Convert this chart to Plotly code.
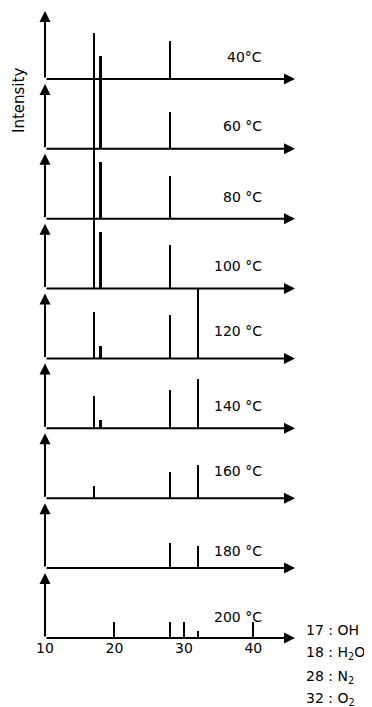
import plotly.graph_objects as go
from plotly.subplots import make_subplots

# ---------------- data ----------------
temperatures = ["40°C", "60 °C", "80 °C", "100 °C", "120 °C", "140 °C", "160 °C", "180 °C", "200 °C"]
mass_numbers = [17, 18, 28, 32]
# peak intensities (arbitrary units, full panel = 70; values > 70 are off-scale)
int_40 = [46, 23, 38, 0]
int_60 = [80, 80, 37, 0]
int_80 = [80, 57, 43, 0]
int_100 = [80, 57, 44, 0]
int_120 = [47, 13, 44, 80]
int_140 = [32, 8, 38, 49]
int_160 = [12, 0, 26, 33]
int_180 = [0, 0, 25, 22]
int_200 = [0, 0, 16, 7]
intensities = [int_40, int_60, int_80, int_100, int_120, int_140, int_160, int_180, int_200]
x_ticks = [10, 20, 30, 40]
legend_lines = ["17 : OH", "18 : H<sub>2</sub>O", "28 : N<sub>2</sub>", "32 : O<sub>2</sub>"]

# ---------------- layout geometry ----------------
OFF = 8  # default page body margin
W, H = 372 - OFF, 707 - OFF
ML, MT, MB = 45 - OFF, 9 - OFF, 69
PW = 250
MR = W - ML - PW
PH = H - MT - MB
XMIN, XMAX = 10, 46
YMAX = 70
n = len(temperatures)
label_dy = [22, 23, 22, 23, 27, 22, 27, 17, 21]
FONT = "DejaVu Sans"

def px_to_paper(x, y):
    xf, yf = x - OFF, y - OFF
    return (xf - ML) / PW, (H - MB - yf) / PH

fig = make_subplots(rows=n, cols=1, vertical_spacing=0)
for i, (temp, vals) in enumerate(zip(temperatures, intensities)):
    r = i + 1
    fig.add_trace(go.Bar(x=mass_numbers, y=vals, width=0.32,
                         marker=dict(color="black", line=dict(width=0)),
                         showlegend=False, hoverinfo="skip"), row=r, col=1)
    top = 1 - i / n
    bot = 1 - (i + 1) / n
    xa = "xaxis" if r == 1 else f"xaxis{r}"
    ya = "yaxis" if r == 1 else f"yaxis{r}"
    xref = "x" if r == 1 else f"x{r}"
    yref = "y" if r == 1 else f"y{r}"
    last = (r == n)
    fig.layout[xa].update(domain=[0, 1], range=[XMIN, XMAX], showgrid=False, zeroline=False,
                          showline=False,
                          ticks="inside" if last else "", ticklen=16, tickwidth=1.6, tickcolor="black",
                          tickvals=x_ticks if last else [], showticklabels=last,
                          tickfont=dict(family=FONT, size=14, color="black"))
    fig.layout[ya].update(domain=[bot, top], range=[0, YMAX], showgrid=False, zeroline=False,
                          showline=False, showticklabels=False, ticks="")
    # x axis arrow
    fig.add_annotation(x=XMAX, y=0, ax=XMIN, ay=0, xref=xref, yref=yref, axref=xref, ayref=yref,
                       showarrow=True, arrowhead=2, arrowsize=1.1, arrowwidth=2, arrowcolor="black", text="")
    # y axis arrow
    fig.add_annotation(x=XMIN, y=68 if r == 1 else 65, ax=XMIN, ay=0, xref=xref, yref=yref, axref=xref, ayref=yref,
                       showarrow=True, arrowhead=2, arrowsize=1.1, arrowwidth=2, arrowcolor="black", text="")
    # temperature label
    fig.add_annotation(x=41.6, y=label_dy[i], xref=xref, yref=yref, text=temp, showarrow=False,
                       xanchor="right", yanchor="middle",
                       font=dict(family=FONT, size=14, color="black"))

# Intensity label
ix, iy = px_to_paper(19, 101)
fig.add_annotation(x=ix, y=iy, xref="paper", yref="paper", text="Intensity", textangle=-90,
                   showarrow=False, xanchor="center", yanchor="middle",
                   font=dict(family=FONT, size=15, color="black"))

# species legend
for k, line in enumerate(legend_lines):
    lx, ly = px_to_paper(304, [630, 653, 677, 699][k])
    fig.add_annotation(x=lx, y=ly, xref="paper", yref="paper", text=line, showarrow=False,
                       xanchor="left", yanchor="middle",
                       font=dict(family=FONT, size=14, color="black"))

fig.update_layout(width=W, height=H, margin=dict(l=ML, r=MR, t=MT, b=MB),
                  paper_bgcolor="white", plot_bgcolor="white", bargap=0)
fig.write_html("out.html")
